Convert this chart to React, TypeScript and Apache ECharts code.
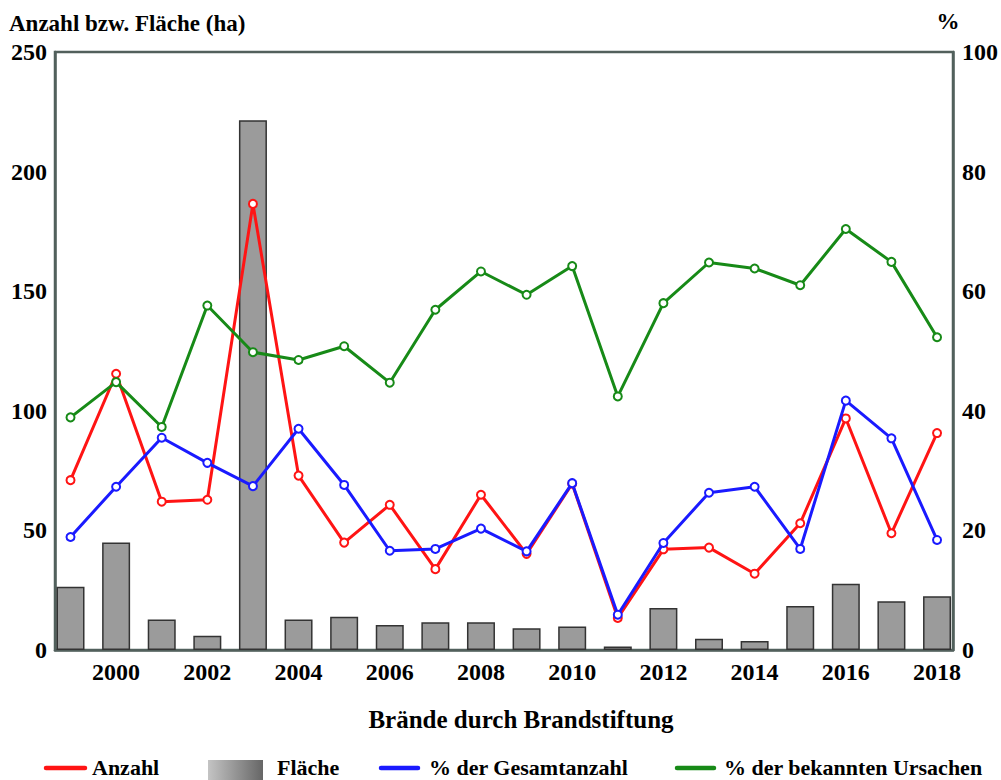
import React, { useEffect, useRef } from "react";
import * as echarts from "echarts";

const years = [1999, 2000, 2001, 2002, 2003, 2004, 2005, 2006, 2007, 2008, 2009, 2010, 2011, 2012, 2013, 2014, 2015, 2016, 2017, 2018];
const xTickLabels = [2000, 2002, 2004, 2006, 2008, 2010, 2012, 2014, 2016, 2018];
const flaeche = [26.4, 44.9, 12.8, 6.0, 221.5, 12.8, 13.9, 10.4, 11.6, 11.6, 9.1, 9.8, 1.5, 17.6, 4.7, 3.8, 18.4, 27.7, 20.4, 22.5];
const anzahl = [71, 115.5, 62, 62.8, 186.5, 72.9, 44.9, 60.7, 33.8, 64.9, 40.2, 69.5, 13.4, 42.1, 42.8, 31.9, 53, 96.8, 48.8, 90.7];
const pctGesamt = [18.9, 27.3, 35.5, 31.3, 27.4, 37, 27.6, 16.6, 16.9, 20.3, 16.5, 27.9, 5.9, 17.9, 26.3, 27.3, 16.9, 41.7, 35.4, 18.4];
const pctBekannt = [38.9, 44.8, 37.3, 57.6, 49.8, 48.5, 50.8, 44.7, 56.9, 63.3, 59.4, 64.2, 42.4, 58.0, 64.8, 63.8, 61.0, 70.4, 64.9, 52.3];

const FONT = "Liberation Serif";
const AXIS_COLOR = "#52605c";

const pairs = (vals: number[]) => years.map((y, i) => [y, vals[i]]);

export default function App() {
  const ref = useRef<HTMLDivElement>(null);
  useEffect(() => {
    if (!ref.current) return;
    const chart = echarts.init(ref.current, undefined, { renderer: "svg" });
    const lineSeries = (name: string, vals: number[], color: string, yAxisIndex: number, z: number) => ({
      name,
      type: "line",
      yAxisIndex,
      data: pairs(vals),
      symbol: "emptyCircle",
      symbolSize: 8,
      lineStyle: { color, width: 3 },
      itemStyle: { color, borderColor: color, borderWidth: 2 },
      z,
    });
    const textStyle = { fontFamily: FONT, fontWeight: "bold", fill: "#000" };
    chart.setOption({
      animation: false,
      backgroundColor: "#fff",
      textStyle: { fontFamily: FONT },
      grid: {
        left: 55,
        right: 48,
        top: 52,
        bottom: 130,
        show: true,
        borderColor: AXIS_COLOR,
        borderWidth: 2.5,
        containLabel: false,
        outerBoundsMode: "none",
      },
      xAxis: {
        type: "value",
        min: 1998.66,
        max: 2018.35,
        axisLine: { show: true, lineStyle: { color: AXIS_COLOR, width: 2.5 } },
        axisTick: { show: false },
        splitLine: { show: false },
        axisLabel: {
          customValues: xTickLabels,
          formatter: (v: number) => String(v),
          color: "#000",
          fontFamily: FONT,
          fontWeight: "bold",
          fontSize: 24,
          margin: 10,
        },
      },
      yAxis: [
        {
          type: "value",
          min: 0,
          max: 250,
          interval: 50,
          axisLine: { show: true, lineStyle: { color: AXIS_COLOR, width: 2.5 } },
          axisTick: { show: false },
          splitLine: { show: false },
          axisLabel: { color: "#000", fontFamily: FONT, fontWeight: "bold", fontSize: 24, margin: 8 },
        },
        {
          type: "value",
          min: 0,
          max: 100,
          interval: 20,
          position: "right",
          axisLine: { show: true, lineStyle: { color: AXIS_COLOR, width: 2.5 } },
          axisTick: { show: false },
          splitLine: { show: false },
          axisLabel: { color: "#000", fontFamily: FONT, fontWeight: "bold", fontSize: 24, margin: 9 },
        },
      ],
      series: [
        {
          name: "Fläche",
          type: "bar",
          yAxisIndex: 0,
          data: pairs(flaeche),
          barWidth: 28,
          itemStyle: { color: "#9b9b9b", borderColor: "#333", borderWidth: 1.5 },
          z: 1,
        },
        lineSeries("Anzahl", anzahl, "#ff1414", 0, 3),
        lineSeries("% der Gesamtanzahl", pctGesamt, "#1a1aff", 1, 4),
        lineSeries("% der bekannten Ursachen", pctBekannt, "#178a17", 1, 5),
      ],
      graphic: [
        { type: "text", style: { ...textStyle, text: "Anzahl bzw. Fläche (ha)", x: 9, y: 23, fontSize: 23, textAlign: "left", textVerticalAlign: "middle" } },
        { type: "text", style: { ...textStyle, text: "%", x: 948, y: 21, fontSize: 23, textAlign: "center", textVerticalAlign: "middle" } },
        { type: "text", style: { ...textStyle, text: "Brände durch Brandstiftung", x: 521, y: 719, fontSize: 25, textAlign: "center", textVerticalAlign: "middle" } },
        { type: "line", shape: { x1: 46, y1: 768, x2: 85, y2: 768 }, style: { stroke: "#ff1414", lineWidth: 4.5, lineCap: "round" } },
        { type: "text", style: { ...textStyle, text: "Anzahl", x: 92, y: 767, fontSize: 22, textAlign: "left", textVerticalAlign: "middle" } },
        {
          type: "rect",
          shape: { x: 208, y: 760, width: 55, height: 20 },
          style: {
            fill: new echarts.graphic.LinearGradient(0, 0, 1, 0, [
              { offset: 0, color: "#c4c4c4" },
              { offset: 1, color: "#666666" },
            ]),
          },
        },
        { type: "text", style: { ...textStyle, text: "Fläche", x: 277, y: 767, fontSize: 22, textAlign: "left", textVerticalAlign: "middle" } },
        { type: "line", shape: { x1: 381, y1: 768, x2: 418, y2: 768 }, style: { stroke: "#1a1aff", lineWidth: 4.5, lineCap: "round" } },
        { type: "text", style: { ...textStyle, text: "% der Gesamtanzahl", x: 429, y: 767, fontSize: 22, textAlign: "left", textVerticalAlign: "middle" } },
        { type: "line", shape: { x1: 677, y1: 768, x2: 714, y2: 768 }, style: { stroke: "#178a17", lineWidth: 4.5, lineCap: "round" } },
        { type: "text", style: { ...textStyle, text: "% der bekannten Ursachen", x: 724, y: 767, fontSize: 22, textAlign: "left", textVerticalAlign: "middle" } },
      ],
    });
    return () => chart.dispose();
  }, []);
  return <div ref={ref} style={{ position: "fixed", left: 0, top: 0, width: 1001, height: 780 }} />;
}
